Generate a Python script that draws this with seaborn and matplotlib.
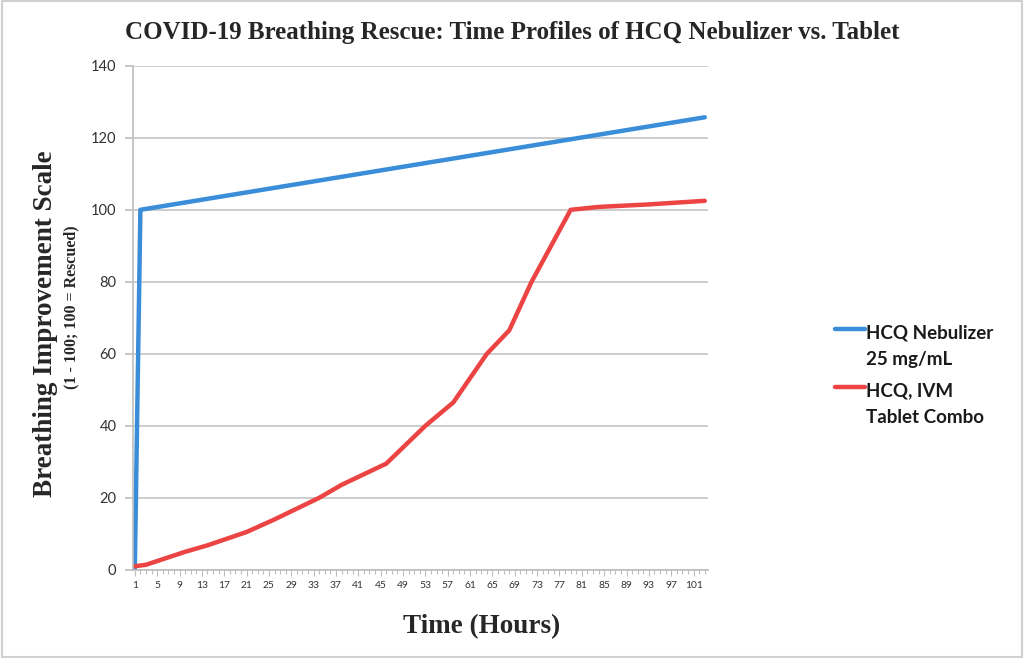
import pandas as pd
import seaborn as sns
import matplotlib.pyplot as plt
from matplotlib.ticker import FixedLocator, MultipleLocator
from matplotlib.lines import Line2D
from matplotlib.patches import Rectangle
from matplotlib.legend_handler import HandlerLine2D

# Values: vertices of each line (hour, score)
neb_hours = [1, 2, 103]
neb_score = [0, 100, 125.7]

tab_hours = [1, 3, 10, 14, 21, 26, 34, 38, 46, 53, 58, 64, 68, 72, 79, 84, 93, 103]
tab_score = [1, 1.4, 5, 6.8, 10.5, 14, 20, 23.6, 29.5, 40, 46.5, 60, 66.5, 80, 100, 100.8, 101.5, 102.5]

series_names = ['HCQ Nebulizer\n25 mg/mL', 'HCQ, IVM\nTablet Combo']
series_colors = ['#3A8DD8', '#EC4343']

x_tick_labels = list(range(1, 102, 4))
y_ticks = list(range(0, 141, 20))

df = pd.concat([
    pd.DataFrame({'hour': neb_hours, 'score': neb_score, 'series': series_names[0]}),
    pd.DataFrame({'hour': tab_hours, 'score': tab_score, 'series': series_names[1]}),
])

sns.set_style('white')
serif = 'Liberation Serif'
sans = 'Lato'


class FirstLineHandler(HandlerLine2D):
    # put the legend line next to the first text line, like Excel does
    def create_artists(self, legend, orig_handle, xdescent, ydescent,
                       width, height, fontsize, trans):
        artists = super().create_artists(legend, orig_handle, xdescent, ydescent,
                                         width, height, fontsize, trans)
        for a in artists:
            a.set_ydata([v + fontsize * 0.95 for v in a.get_ydata()])
        return artists


fig = plt.figure(figsize=(10.24, 6.58), dpi=100)
ax = fig.add_axes([0.130, 0.134, 0.561, 0.766])

sns.lineplot(data=df, x='hour', y='score', hue='series',
             palette=dict(zip(series_names, series_colors)),
             estimator=None, linewidth=3.2, ax=ax, legend=False)

ax.set_xlim(0.7, 103.5)
ax.set_ylim(0, 140)
ax.yaxis.set_major_locator(FixedLocator(y_ticks))
ax.xaxis.set_major_locator(FixedLocator(x_tick_labels))
ax.xaxis.set_minor_locator(MultipleLocator(1))
ax.grid(axis='y', color='#C9C9C9', linewidth=1.3)
ax.set_axisbelow(True)

for s in ['top', 'right']:
    ax.spines[s].set_visible(False)
for s in ['left', 'bottom']:
    ax.spines[s].set_color('#BDBDBD')
    ax.spines[s].set_linewidth(1.2)

ax.tick_params(axis='y', which='major', left=True, length=6, color='#BDBDBD',
               width=1.2, labelsize=10.5, labelcolor='#333333', pad=6)
ax.tick_params(axis='x', which='major', bottom=True, length=4, color='#BDBDBD',
               width=0.8, labelsize=7.4, labelcolor='#333333', pad=4)
ax.tick_params(axis='x', which='minor', bottom=True, length=3, color='#BDBDBD', width=0.8)
for lab in ax.get_xticklabels() + ax.get_yticklabels():
    lab.set_fontfamily(sans)

ax.set_xlabel('')
ax.set_ylabel('')

fig.suptitle('COVID-19 Breathing Rescue: Time Profiles of HCQ Nebulizer vs. Tablet',
             x=0.5, y=1 - 32 / 658, fontsize=18, fontweight='bold', family=serif, va='center')
fig.text(482 / 1024, 1 - 627 / 658, 'Time (Hours)', ha='center', va='center',
         fontsize=19.5, fontweight='bold', family=serif)
fig.text(46 / 1024, 1 - 324 / 658, 'Breathing Improvement Scale', ha='center', va='center',
         rotation=90, fontsize=19.5, fontweight='bold', family=serif)
fig.text(71 / 1024, 1 - 307 / 658, '(1 - 100; 100 = Rescued)', ha='center', va='center',
         rotation=90, fontsize=11.5, fontweight='bold', family=serif)

handles = [Line2D([], [], color=c, linewidth=3.2) for c in series_colors]
leg = fig.legend(handles, series_names, loc='center left', bbox_to_anchor=(0.799, 0.43),
                 frameon=False, handlelength=1.6, handletextpad=0.05, labelspacing=0.75,
                 prop={'family': sans, 'size': 13.5, 'weight': 'bold'},
                 handler_map={Line2D: FirstLineHandler()})
for t in leg.get_texts():
    t.set_linespacing(1.7)
    t.set_color('#1A1A1A')

fig.patches.append(Rectangle((0.002, 0.002), 0.996, 0.996, transform=fig.transFigure,
                             fill=False, edgecolor='#D0D0D0', linewidth=1.5))

fig.savefig('out.png', dpi=100)
